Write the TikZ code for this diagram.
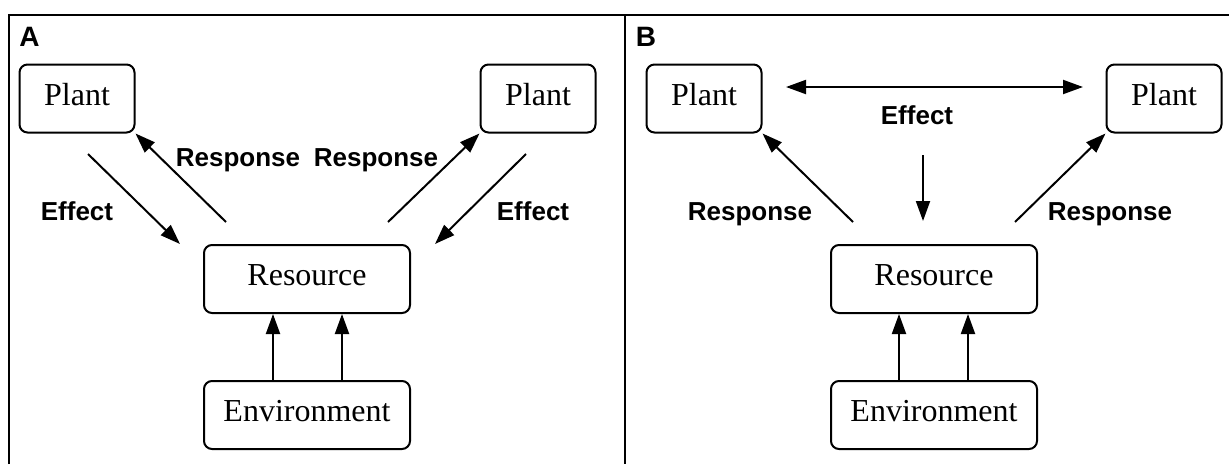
\documentclass[tikz,border=0pt]{standalone}
\usepackage{fontspec}
\setmainfont{Liberation Serif}
\newfontfamily\labfont{Liberation Sans}
\usetikzlibrary{arrows.meta,calc}
\begin{document}
\begin{tikzpicture}[x=1pt,y=-1pt,
  box/.style={draw,line width=2pt,rounded corners=8pt,minimum width=115pt,minimum height=68pt,inner sep=0pt,text height=22pt,text depth=9pt,font=\fontsize{32}{38}\selectfont},
  wbox/.style={box,minimum width=206pt},
  arr/.style={line width=2pt,-{Triangle[length=20pt,width=14pt]}},
  darr/.style={line width=2pt,{Triangle[length=20pt,width=14pt]}-{Triangle[length=20pt,width=14pt]}},
  lbl/.style={font=\labfont\bfseries\fontsize{26}{30}\selectfont,anchor=base,inner sep=0pt},
  panel/.style={lbl,font=\labfont\bfseries\fontsize{28}{32}\selectfont},
  frame/.style={line width=2.2pt}
]
\useasboundingbox (0,0) rectangle (1229,464);
% frame
\draw[frame] (9.3,464) -- (9.3,15.3) -- (1229,15.3);
\draw[frame] (625.2,15.3) -- (625.2,464);

% ---------- Panel A ----------
\node[panel] (la) at (29.5,46) {A};
\node[box] (pa1) at (77,98.5) {Plant};
\node[box] (pa2) at (538,98.5) {Plant};
\node[wbox] (ra) at (307,279) {Resource};
\node[wbox] (ea) at (307,415) {Environment};
\coordinate (a1) at (88,154);
\coordinate (a2) at (180,244);
\coordinate (a3) at (226,222);
\coordinate (a4) at (388,222);
\coordinate (a5) at (526,154);
\coordinate (a6) at (435,244);
\draw[arr] (a1) -- (a2);
\draw[arr] (a3) -- (pa1.south east);
\draw[arr] (a4) -- (pa2.south west);
\draw[arr] (a5) -- (a6);
\draw[arr] ([xshift=-34pt]ea.north) -- ([xshift=-34pt]ra.south);
\draw[arr] ([xshift=35pt]ea.north) -- ([xshift=35pt]ra.south);
\node[lbl] (efa1) at (77,220) {Effect};
\node[lbl] (efa2) at (533,220) {Effect};
\node[lbl] (rsa1) at (238,166) {Response};
\node[lbl] (rsa2) at (376,166) {Response};

% ---------- Panel B ----------
\node[panel] (lb) at (646,46) {B};
\node[box] (pb1) at (704,98.5) {Plant};
\node[box] (pb2) at (1164,98.5) {Plant};
\node[wbox] (rb) at (934,279) {Resource};
\node[wbox] (eb) at (934,415) {Environment};
\coordinate (b1) at (786,87);
\coordinate (b2) at (1083,87);
\coordinate (b3) at (923,155);
\coordinate (b4) at (923,221);
\coordinate (b5) at (853,222);
\coordinate (b6) at (1015,222);
\draw[darr] (b1) -- (b2);
\draw[arr] (b3) -- (b4);
\draw[arr] (b5) -- (pb1.south east);
\draw[arr] (b6) -- (pb2.south west);
\draw[arr] ([xshift=-35pt]eb.north) -- ([xshift=-35pt]rb.south);
\draw[arr] ([xshift=34pt]eb.north) -- ([xshift=34pt]rb.south);
\node[lbl] (efb) at (917,124) {Effect};
\node[lbl] (rsb1) at (750,220) {Response};
\node[lbl] (rsb2) at (1110,220) {Response};
\end{tikzpicture}
\end{document}
